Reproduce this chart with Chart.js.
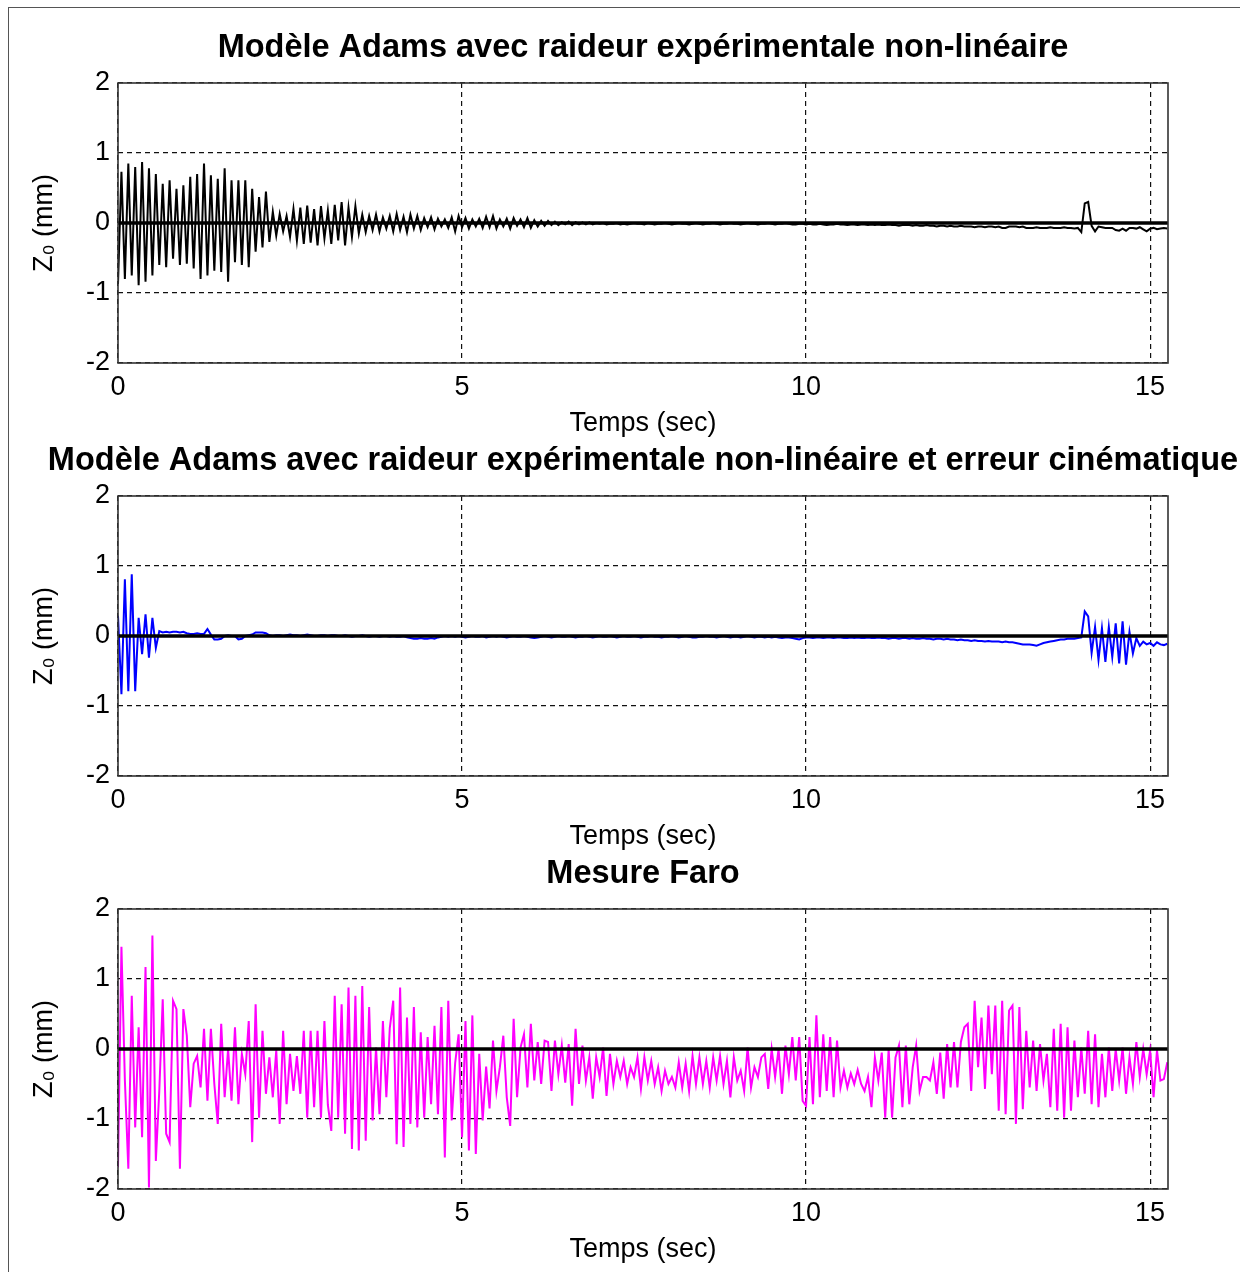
<!DOCTYPE html>
<html>
<head>
<meta charset="utf-8">
<script src="https://cdn.jsdelivr.net/npm/chart.js@4.4.1/dist/chart.umd.min.js"></script>
<style>
  html, body { margin: 0; padding: 0; background: #fff; overflow: hidden; }
  #page { position: relative; width: 1240px; height: 1272px; overflow: hidden; }
  #frame { position: absolute; left: 8px; top: 7px; right: 0; bottom: 0;
           border-top: 1px solid #555; border-left: 1px solid #555; }
  .plot { position: absolute; left: 0; width: 1286px; height: 443px; }
</style>
</head>
<body>
<div id="page">
  <div id="frame"></div>
  <div class="plot" style="top:0px"><canvas id="c1"></canvas></div>
  <div class="plot" style="top:413px"><canvas id="c2"></canvas></div>
  <div class="plot" style="top:826px"><canvas id="c3"></canvas></div>
</div>
<script>
const timeStep = 0.05;
const tMax = 15.26;
const xTicks = [0, 5, 10, 15];
const yTicks = [-2, -1, 0, 1, 2];

const plotTitles = [
  "Modèle Adams avec raideur expérimentale non-linéaire",
  "Modèle Adams avec raideur expérimentale non-linéaire et erreur cinématique",
  "Mesure Faro"
];
const xTitle = "Temps (sec)";
const yTitle = "Z₀ (mm)";

// Adams model, non-linear stiffness (black), one value per 0.05 s
const adamsZ = [
  -0.87, 0.73, -0.80, 0.85, -0.75, 0.80, -0.89, 0.87, -0.84, 0.78,
  -0.75, 0.70, -0.60, 0.56, -0.63, 0.61, -0.51, 0.49, -0.60, 0.54,
  -0.58, 0.66, -0.65, 0.70, -0.80, 0.85, -0.75, 0.68, -0.68, 0.63,
  -0.70, 0.78, -0.84, 0.61, -0.56, 0.61, -0.60, 0.61, -0.63, 0.49,
  -0.41, 0.37, -0.35, 0.45, -0.27, 0.16, -0.18, 0.13, -0.12, 0.10,
  -0.20, 0.20, -0.25, 0.22, -0.30, 0.25, -0.28, 0.20, -0.32, 0.24,
  -0.22, 0.18, -0.30, 0.26, -0.25, 0.30, -0.32, 0.22, -0.20, 0.24,
  -0.15, 0.12, -0.13, 0.10, -0.10, 0.12, -0.12, 0.08, -0.08, 0.10,
  -0.12, 0.13, -0.10, 0.09, -0.13, 0.12, -0.08, 0.10, -0.10, 0.07,
  -0.06, 0.08, -0.09, 0.06, -0.05, 0.05, -0.07, 0.08, -0.12, 0.10,
  -0.06, 0.07, -0.08, 0.05, -0.05, 0.06, -0.07, 0.09, -0.06, 0.10,
  -0.08, 0.05, -0.05, 0.06, -0.08, 0.07, -0.04, 0.05, -0.06, 0.07,
  -0.07, 0.04, -0.05, 0.03, -0.04, 0.03, -0.03, 0.02, -0.03, 0.01,
  -0.02, 0.02, -0.03, 0.01, -0.02, 0.01, -0.02, 0.01, -0.02, 0.00,
  -0.01, 0.00, -0.02, -0.01, -0.01, 0.00, -0.02, -0.01, -0.02, -0.01,
  0.00, -0.01, -0.01, -0.02, 0.00, -0.01, -0.02, -0.01, -0.01, 0.00,
  -0.01, -0.02, -0.01, 0.00, -0.01, -0.01, -0.02, -0.01, 0.00, -0.01,
  -0.02, -0.01, -0.01, 0.00, -0.01, -0.02, -0.01, -0.01, 0.00, -0.01,
  -0.01, -0.02, -0.01, 0.00, -0.01, -0.01, -0.02, -0.01, -0.01, 0.00,
  -0.01, -0.02, -0.01, -0.01, 0.00, -0.01, -0.02, -0.02, -0.01, -0.01,
  -0.02, -0.01, -0.02, -0.02, -0.01, -0.02, -0.03, -0.02, -0.02, -0.01,
  -0.02, -0.02, -0.03, -0.02, -0.02, -0.03, -0.02, -0.02, -0.03, -0.02,
  -0.03, -0.02, -0.03, -0.03, -0.02, -0.03, -0.03, -0.04, -0.03, -0.03,
  -0.03, -0.04, -0.03, -0.04, -0.04, -0.03, -0.04, -0.04, -0.05, -0.04,
  -0.04, -0.05, -0.04, -0.05, -0.05, -0.04, -0.05, -0.05, -0.05, -0.06,
  -0.05, -0.05, -0.06, -0.05, -0.05, -0.06, -0.05, -0.07, -0.07, -0.05,
  -0.05, -0.05, -0.06, -0.05, -0.07, -0.07, -0.07, -0.06, -0.07, -0.07,
  -0.07, -0.06, -0.07, -0.07, -0.07, -0.06, -0.07, -0.07, -0.08, -0.07,
  -0.13, 0.28, 0.30, -0.04, -0.12, -0.05, -0.06, -0.07, -0.07, -0.07,
  -0.10, -0.11, -0.08, -0.11, -0.07, -0.07, -0.08, -0.06, -0.09, -0.12,
  -0.08, -0.07, -0.09, -0.08, -0.07, -0.08
];

// Adams model with kinematic error (blue)
const adamsCinZ = [
  0.29, -0.83, 0.81, -0.79, 0.88, -0.79, 0.26, -0.26, 0.31, -0.31,
  0.26, -0.17, 0.07, 0.05, 0.06, 0.05, 0.06, 0.06, 0.05, 0.06,
  0.04, 0.03, 0.03, 0.04, 0.03, 0.03, 0.10, 0.02, -0.05, -0.05,
  -0.04, 0.00, 0.01, 0.00, 0.00, -0.05, -0.04, 0.00, 0.01, 0.02,
  0.05, 0.05, 0.05, 0.04, 0.01, 0.00, 0.01, 0.01, 0.00, 0.01,
  0.02, 0.01, 0.01, 0.00, 0.01, 0.02, 0.01, 0.00, 0.00, 0.01,
  0.01, 0.00, 0.01, 0.01, 0.00, 0.00, 0.01, 0.00, -0.01, 0.00,
  0.00, 0.01, 0.00, -0.01, 0.00, 0.00, -0.01, 0.00, 0.00, -0.01,
  0.00, -0.01, -0.01, 0.00, -0.02, -0.03, -0.04, -0.04, -0.03, -0.04,
  -0.04, -0.03, -0.04, -0.02, -0.01, 0.00, -0.01, 0.00, -0.01, 0.00,
  -0.01, -0.02, -0.01, 0.00, -0.01, -0.01, 0.00, -0.02, -0.01, 0.00,
  -0.01, 0.00, -0.01, -0.02, -0.01, 0.00, -0.01, -0.01, 0.00, -0.01,
  -0.02, -0.03, -0.02, -0.01, 0.00, -0.01, -0.02, -0.01, 0.00, -0.01,
  -0.01, 0.00, -0.01, -0.02, -0.01, -0.01, 0.00, -0.01, -0.02, -0.01,
  0.00, -0.01, -0.01, 0.00, -0.01, -0.02, -0.01, 0.00, -0.01, -0.01,
  0.00, -0.01, -0.02, -0.01, -0.01, 0.00, -0.01, -0.01, -0.02, -0.01,
  -0.01, 0.00, -0.01, -0.02, -0.01, 0.00, -0.01, -0.02, -0.02, -0.01,
  -0.01, 0.00, -0.01, -0.01, -0.02, -0.01, 0.00, -0.01, -0.02, -0.01,
  -0.01, -0.02, -0.01, 0.00, -0.01, -0.02, -0.01, -0.01, -0.02, -0.01,
  -0.02, -0.01, -0.02, -0.03, -0.02, -0.02, -0.03, -0.04, -0.05, -0.03,
  -0.02, -0.02, -0.03, -0.02, -0.02, -0.03, -0.02, -0.02, -0.03, -0.02,
  -0.02, -0.03, -0.03, -0.02, -0.03, -0.02, -0.03, -0.03, -0.02, -0.03,
  -0.03, -0.02, -0.03, -0.03, -0.04, -0.03, -0.03, -0.04, -0.03, -0.03,
  -0.04, -0.03, -0.04, -0.04, -0.03, -0.04, -0.04, -0.05, -0.04, -0.04,
  -0.05, -0.04, -0.05, -0.05, -0.06, -0.05, -0.06, -0.06, -0.07, -0.06,
  -0.07, -0.07, -0.08, -0.07, -0.08, -0.08, -0.08, -0.09, -0.08, -0.09,
  -0.09, -0.10, -0.11, -0.12, -0.12, -0.12, -0.13, -0.14, -0.12, -0.10,
  -0.09, -0.08, -0.07, -0.06, -0.05, -0.05, -0.04, -0.04, -0.04, -0.03,
  -0.02, 0.35, 0.28, -0.24, 0.13, -0.34, 0.11, -0.37, 0.13, -0.30,
  0.18, -0.39, 0.21, -0.41, 0.06, -0.25, -0.03, -0.14, -0.08, -0.12,
  -0.10, -0.14, -0.09, -0.12, -0.13, -0.11
];

// Faro measurement (magenta)
const faroZ = [
  // 0 - 5.4 s
  -1.69, 1.46, -0.45, -1.71, 0.76, -1.12, 0.31, -1.26, 1.17, -1.98,
  1.62, -1.60, -0.60, 0.71, -1.21, -1.33, 0.69, 0.57, -1.71, 0.57,
  0.19, -0.83, -0.21, -0.10, -0.55, 0.29, -0.74, 0.29, -0.50, -1.07,
  0.36, -0.69, 0.00, -0.74, 0.31, -0.79, -0.07, -0.36, 0.40, -1.33,
  0.64, -0.98, 0.26, -0.64, -0.12, -0.69, -0.02, -1.07, 0.26, -0.79,
  -0.07, -0.60, -0.10, -0.64, 0.26, -0.98, 0.26, -0.83, 0.26, -0.98,
  0.40, -0.80, -1.17, 0.76, -0.98, 0.64, -1.21, 0.88, -1.43, 0.76,
  -1.45, 0.90, -1.31, 0.60, -1.02, 0.02, -0.93, 0.40, -0.69, 0.30,
  0.69, -1.36, 0.88, -1.40, 0.45, -1.07, 0.60, -1.12, 0.24, -0.98,
  0.17, -0.79, 0.33, -0.93, 0.60, -1.55, 0.69, -1.02, -0.20, 0.21,
  -1.26, 0.40, -1.45, 0.48, -1.50, -0.07, -1.02, -0.25, -0.85,
  // 5.45 - 10.8 s
  0.12, -0.60, -0.26, 0.19, -0.69, -1.10, 0.43, -0.69, 0.02, 0.21,
  -0.55, 0.36, -0.45, 0.10, -0.50, 0.12, 0.10, -0.60, 0.12, -0.36,
  0.05, -0.48, 0.07, -0.81, 0.29, -0.50, 0.05, -0.45, -0.12, -0.71,
  -0.12, -0.40, 0.02, -0.67, -0.07, -0.50, -0.17, -0.40, -0.17, -0.50,
  -0.26, -0.40, -0.12, -0.57, -0.12, -0.45, -0.17, -0.50, -0.26, -0.60,
  -0.31, -0.50, -0.40, -0.55, -0.19, -0.55, -0.21, -0.60, -0.10, -0.50,
  -0.12, -0.50, -0.17, -0.55, -0.12, -0.45, -0.10, -0.50, -0.17, -0.69,
  -0.12, -0.45, -0.31, -0.60, 0.02, -0.55, -0.26, -0.40, -0.12, -0.07,
  -0.57, 0.00, -0.40, 0.00, -0.64, 0.05, -0.36, 0.17, -0.45, 0.17,
  -0.74, -0.81, 0.17, -0.79, 0.48, -0.69, 0.21, -0.60, 0.17, -0.69,
  0.12, -0.55, -0.31, -0.55, -0.35, -0.50, -0.30, -0.50,
  // 10.85 - 15.25 s
  -0.60, -0.40, -0.83, -0.12, -0.45, -0.05, -0.98, 0.00, -0.98, -0.12,
  0.05, -0.83, 0.05, -0.79, -0.26, 0.05, -0.60, -0.40, -0.40, -0.45,
  -0.19, -0.64, -0.05, -0.71, 0.07, -0.55, 0.10, -0.55, 0.10, 0.31,
  0.36, -0.60, 0.69, -0.26, 0.45, -0.57, 0.62, -0.36, 0.62, -0.88,
  0.69, -0.93, 0.55, 0.62, -1.07, 0.60, -0.86, 0.26, -0.55, 0.12,
  -0.60, 0.07, -0.45, -0.07, -0.83, 0.29, -0.88, 0.36, -0.98, 0.31,
  -0.88, 0.12, -0.69, 0.02, -0.64, 0.26, -0.79, 0.21, -0.83, -0.07,
  -0.69, 0.02, -0.60, 0.00, -0.45, 0.02, -0.64, -0.12, -0.50, 0.10,
  -0.40, 0.00, -0.36, -0.02, -0.69, -0.02, -0.45, -0.43, -0.19
];

const FONT = '"Liberation Sans", Arial, Helvetica, sans-serif';

// MATLAB style closed box around the axes
const boxPlugin = {
  id: "axesBox",
  afterDatasetsDraw(chart) {
    const { ctx, chartArea: a } = chart;
    ctx.save();
    ctx.strokeStyle = "#333";
    ctx.lineWidth = 1.6;
    ctx.strokeRect(a.left, a.top, a.right - a.left, a.bottom - a.top);
    ctx.restore();
  }
};

function makeChart(id, title, values, color) {
  const points = values.map((v, i) => ({ x: +(i * timeStep).toFixed(2), y: v }));
  return new Chart(document.getElementById(id), {
    type: "line",
    data: {
      datasets: [
        // zero reference line, drawn on top
        { data: [{ x: 0, y: 0 }, { x: tMax, y: 0 }], borderColor: "#000", borderWidth: 3.5, pointRadius: 0 },
        { data: points, borderColor: color, borderWidth: 2, pointRadius: 0, tension: 0 }
      ]
    },
    options: {
      responsive: true,
      maintainAspectRatio: false,
      animation: false,
      events: [],
      layout: { padding: 0 },
      plugins: {
        legend: { display: false },
        tooltip: { enabled: false },
        title: {
          display: true,
          text: title,
          color: "#000",
          font: { family: FONT, size: 32.5, weight: "bold", lineHeight: 1.2 },
          padding: { top: 29, bottom: 15 }
        }
      },
      scales: {
        x: {
          type: "linear",
          min: 0,
          max: tMax,
          afterBuildTicks: s => { s.ticks = xTicks.map(v => ({ value: v })); },
          afterFit: s => { s.height = 80; },
          border: { display: false, dash: [5, 4] },
          grid: { color: "#111", lineWidth: 1.2, drawTicks: false },
          ticks: { padding: 8, color: "#000", maxRotation: 0, font: { family: FONT, size: 27 } },
          title: { display: true, text: xTitle, color: "#000", font: { family: FONT, size: 27, lineHeight: 1.2 }, padding: { top: 0, bottom: 2.8 } }
        },
        y: {
          min: -2,
          max: 2,
          afterBuildTicks: s => { s.ticks = yTicks.map(v => ({ value: v })); },
          afterFit: s => { s.width = 118; },
          border: { display: false, dash: [5, 4] },
          grid: { color: "#111", lineWidth: 1.2, drawTicks: false },
          ticks: { padding: 8, color: "#000", font: { family: FONT, size: 27 } },
          title: { display: true, text: yTitle, color: "#000", font: { family: FONT, size: 27, lineHeight: 1.2 }, padding: { top: 28.8, bottom: 0 } }
        },
        // empty right axis only reserves the margin right of the box
        yPad: {
          position: "right",
          afterFit: s => { s.width = 118; },
          ticks: { display: false },
          grid: { display: false },
          border: { display: false }
        }
      }
    },
    plugins: [boxPlugin]
  });
}

makeChart("c1", plotTitles[0], adamsZ, "#000000");
makeChart("c2", plotTitles[1], adamsCinZ, "#0000ff");
makeChart("c3", plotTitles[2], faroZ, "#ff00ff");
</script>
</body>
</html>
